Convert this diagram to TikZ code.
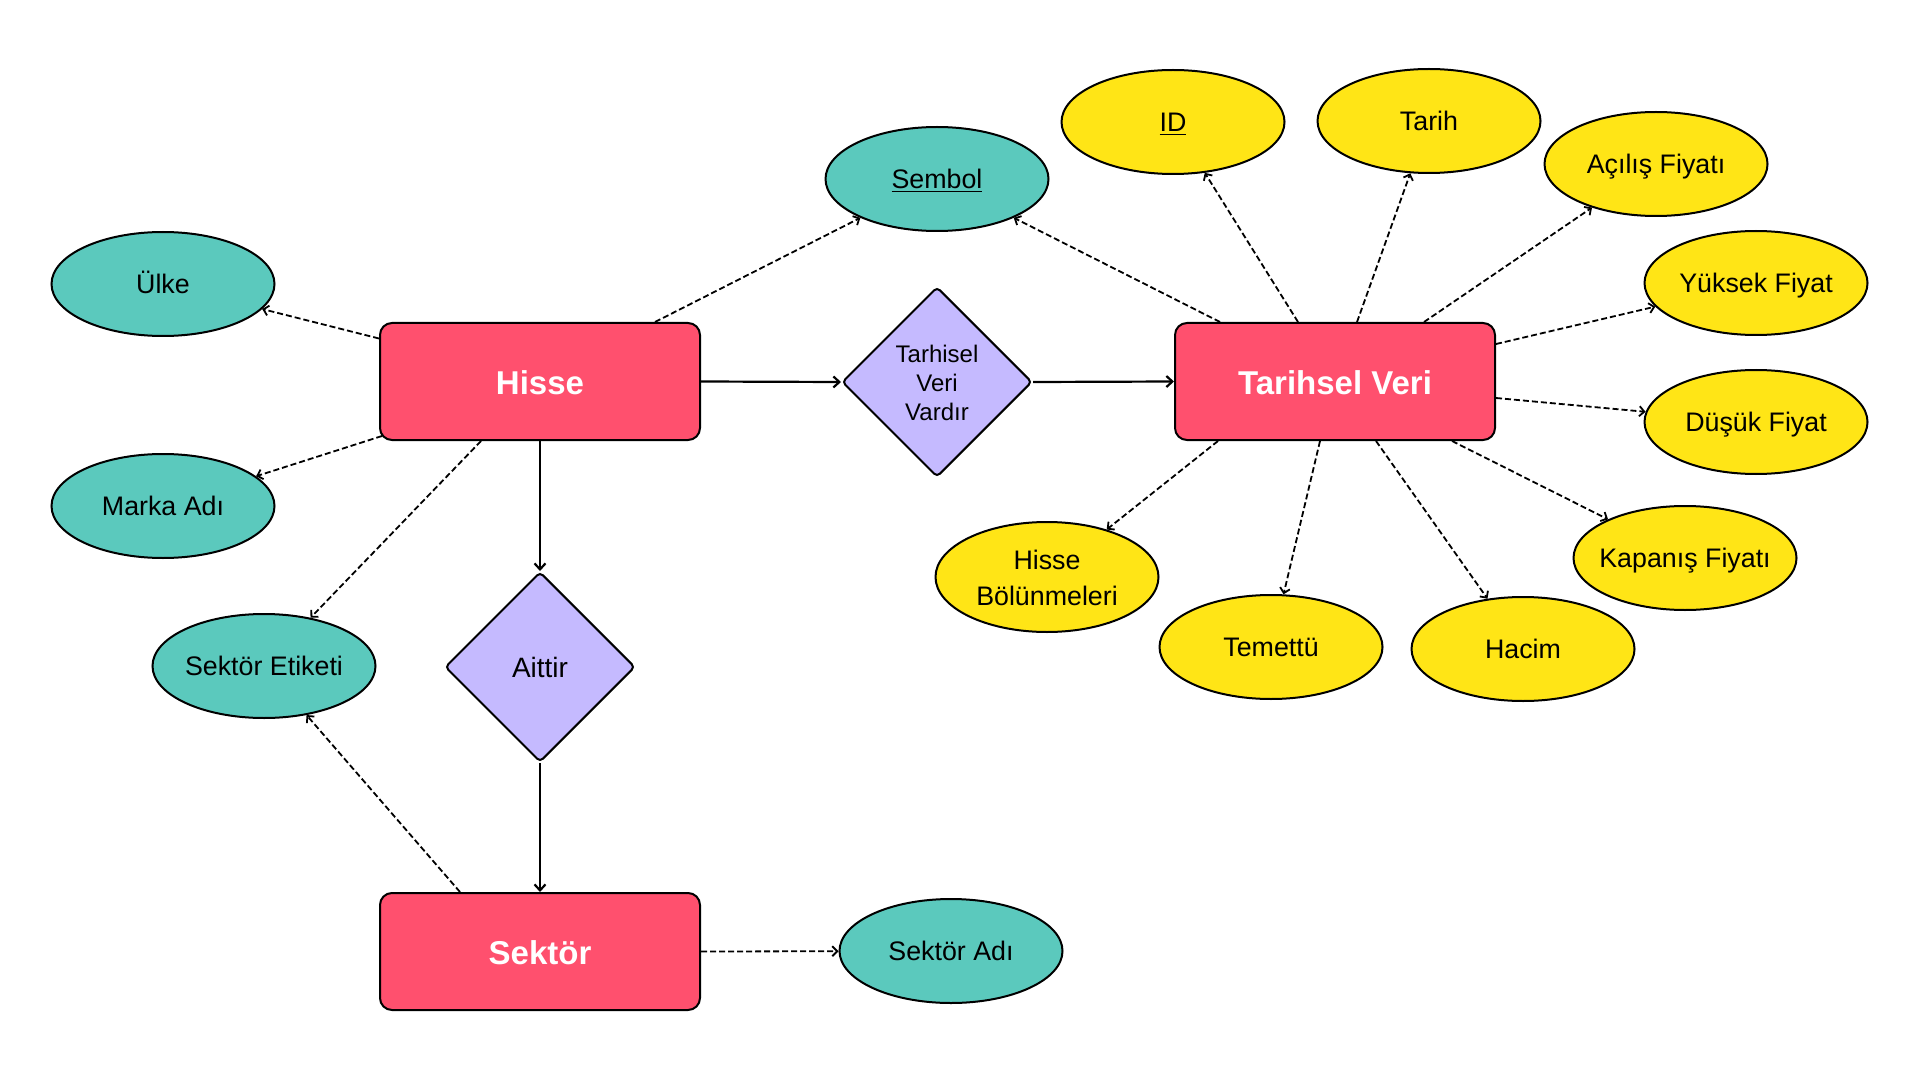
\documentclass[tikz,border=0pt]{standalone}
\usepackage{fontspec}
\setmainfont{Liberation Sans}
\usetikzlibrary{shapes.geometric,arrows.meta,calc}
\definecolor{boxred}{HTML}{FF506E}
\definecolor{relav}{HTML}{C5BAFF}
\definecolor{attrteal}{HTML}{5BC9BD}
\definecolor{attryel}{HTML}{FFE516}
\newcommand{\ctrtext}[1]{\makebox[0pt][c]{#1}}
\newcommand{\stack}[2]{\raisebox{#1}[0pt][0pt]{\makebox[0pt][c]{\begin{tabular}{@{}c@{}}#2\end{tabular}}}}
\begin{document}
\begin{tikzpicture}[x=0.5pt,y=-0.5pt,
  entity/.style={draw=black, line width=1pt, fill=boxred, rounded corners=6pt,
    minimum width=160pt, minimum height=58.5pt, inner sep=0pt, text=white,
    text height=13.2pt, text depth=0pt,
    font=\fontsize{16.5}{20}\selectfont\bfseries},
  relbox/.style={diamond, aspect=1, draw=black, line width=1pt, fill=relav,
    minimum width=95pt, minimum height=95pt, inner sep=0pt, rounded corners=2pt},
  attr/.style={ellipse, draw=black, line width=1pt, minimum width=111.5pt,
    minimum height=52pt, inner sep=0pt, font=\fontsize{13.4}{17.8}\selectfont},
  oneline/.style={text height=9.6pt, text depth=0pt},
  tattr/.style={attr, oneline, fill=attrteal},
  yattr/.style={attr, oneline, fill=attryel},
  yattrm/.style={attr, fill=attryel},
  dasharrow/.style={-{Straight Barb[length=2.5pt,width=5pt]}, line width=0.9pt,
    dash pattern=on 3pt off 1.5pt},
  solidarrow/.style={-{Straight Barb[length=3pt,width=5.5pt]}, line width=1.1pt}
]
\fill[white] (0,0) rectangle (1920,1080);
\useasboundingbox (0,0) rectangle (1920,1080);

% entities
\node[entity] (hisse) at (540,381.5) {Hisse};
\node[entity] (tv) at (1335,381.5) {Tarihsel Veri};
\node[entity] (sektor) at (540,951.5) {Sektör};

% relationships
\node[relbox, font=\fontsize{12}{14.7}\selectfont] (vardir) at (937,382) {\stack{-4.8pt}{Tarhisel\\Veri\\Vardır}};
\node[relbox, font=\fontsize{14}{17}\selectfont] (aittir) at (540,667) {\ctrtext{Aittir}};

% teal attributes
\node[tattr] (sembol) at (937,179) {\ctrtext{\underline{Sembol}}};
\node[tattr] (ulke) at (163,284) {\ctrtext{Ülke}};
\node[tattr] (marka) at (163,506) {\ctrtext{Marka Adı}};
\node[tattr] (setiket) at (264,666) {\ctrtext{Sektör Etiketi}};
\node[tattr] (sadi) at (951,951) {\ctrtext{Sektör Adı}};

% yellow attributes
\node[yattr] (id) at (1173,122) {\ctrtext{\underline{ID}}};
\node[yattr] (tarih) at (1429,121) {\ctrtext{Tarih}};
\node[yattr] (acilis) at (1656,164) {\ctrtext{Açılış Fiyatı}};
\node[yattr] (yuksek) at (1756,283) {\ctrtext{Yüksek Fiyat}};
\node[yattr] (dusuk) at (1756,422) {\ctrtext{Düşük Fiyat}};
\node[yattr] (kapanis) at (1685,558) {\ctrtext{Kapanış Fiyatı}};
\node[yattrm, minimum height=55pt] (bolunme) at (1047,577) {\stack{-5.4pt}{Hisse\\Bölünmeleri}};
\node[yattr] (temettu) at (1271,647) {\ctrtext{Temettü}};
\node[yattr] (hacim) at (1523,649) {\ctrtext{Hacim}};

% Hisse connectors
\draw[dasharrow] ($(hisse.west)+(0,-43)$) -- (ulke);
\draw[dasharrow] ($(hisse.south west)+(3,-5)$) -- (marka);
\draw[dasharrow] ($(hisse.south)+(-59,0)$) -- (setiket);
\draw[dasharrow] ($(hisse.north)+(115,0)$) -- (sembol);
\draw[solidarrow] (hisse.east) -- (vardir.west);
\draw[solidarrow] (vardir.east) -- (tv.west);
\draw[solidarrow] (hisse.south) -- (aittir.north);
\draw[solidarrow] (aittir.south) -- (sektor.north);

% Sektor connectors
\draw[dasharrow] ($(sektor.north)+(-80,0)$) -- (setiket);
\draw[dasharrow] (sektor.east) -- (sadi);

% Tarihsel Veri connectors
\draw[dasharrow] ($(tv.north)+(-115,0)$) -- (sembol);
\draw[dasharrow] ($(tv.north)+(-37,0)$) -- (id);
\draw[dasharrow] ($(tv.north)+(22,0)$) -- (tarih);
\draw[dasharrow] ($(tv.north)+(89,0)$) -- (acilis);
\draw[dasharrow] ($(tv.east)+(0,-37.5)$) -- (yuksek);
\draw[dasharrow] ($(tv.east)+(0,16.5)$) -- (dusuk);
\draw[dasharrow] ($(tv.south)+(117,0)$) -- (kapanis);
\draw[dasharrow] ($(tv.south)+(41,0)$) -- (hacim);
\draw[dasharrow] ($(tv.south)+(-15,0)$) -- (temettu);
\draw[dasharrow] ($(tv.south)+(-117,0)$) -- (bolunme);
\end{tikzpicture}
\end{document}
